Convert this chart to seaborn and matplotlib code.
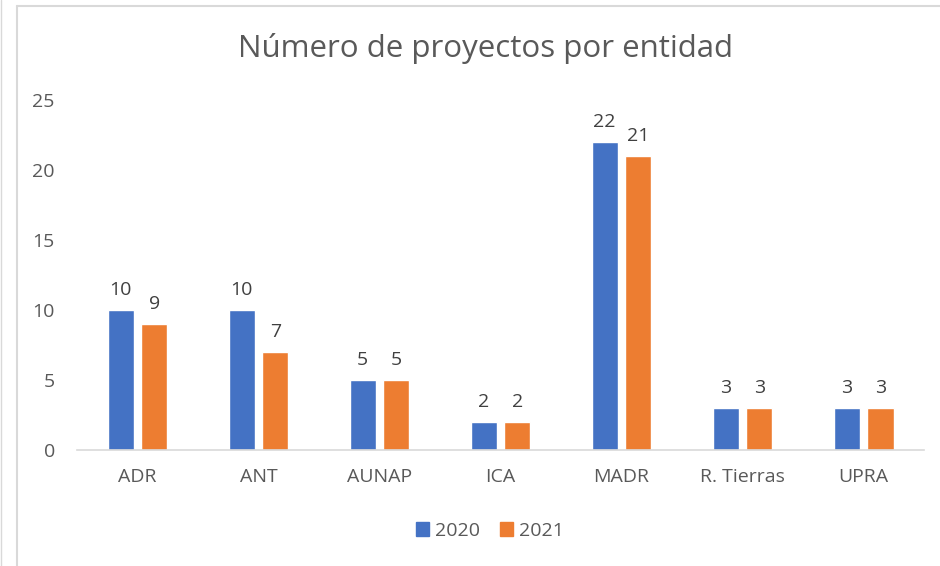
import matplotlib
matplotlib.use("Agg")
import matplotlib.pyplot as plt
import seaborn as sns
import pandas as pd
from matplotlib.patches import Rectangle
from matplotlib.lines import Line2D

# Datos
entidades = ["ADR", "ANT", "AUNAP", "ICA", "MADR", "R. Tierras", "UPRA"]
proyectos_2020 = [10, 10, 5, 2, 22, 3, 3]
proyectos_2021 = [9, 7, 5, 2, 21, 3, 3]
anios = ["2020", "2021"]
colores = ["#4472C4", "#ED7D31"]

df = pd.DataFrame({
    "entidad": entidades * 2,
    "anio": [anios[0]] * len(entidades) + [anios[1]] * len(entidades),
    "valor": proyectos_2020 + proyectos_2021,
})

sns.set_theme(style="white")
plt.rcParams["font.family"] = ["Open Sans", "DejaVu Sans"]
gris = "#595959"

fig = plt.figure(figsize=(9.4, 5.66), dpi=100)
ax = fig.add_axes([0.0819, 0.205, 0.9011, 0.6184])

sns.barplot(data=df, x="entidad", y="valor", hue="anio", palette=colores,
            width=0.56, gap=0.23, saturation=1, ax=ax, legend=False)

for cont in ax.containers:
    ax.bar_label(cont, padding=8, fontsize=14, color="#404040")

ax.set_ylim(0, 25)
ax.set_yticks(range(0, 26, 5))
ax.set_xlim(-0.5, len(entidades) - 0.5)
ax.set_xlabel("")
ax.set_ylabel("")
for s in ["top", "right", "left"]:
    ax.spines[s].set_visible(False)
ax.spines["bottom"].set_color("#D9D9D9")
ax.spines["bottom"].set_linewidth(1.2)
ax.tick_params(axis="both", length=0, labelsize=14, labelcolor=gris)
ax.tick_params(axis="x", pad=13)
ax.tick_params(axis="y", pad=16)

fig.text(0.516, 0.914, "Número de proyectos por entidad", ha="center", va="center",
         fontsize=22.5, color=gris)

# Leyenda
handles = [Rectangle((0, 0), 1, 1, color=c) for c in colores]
fig.legend(handles, anios, loc="center", bbox_to_anchor=(0.521, 0.062), ncol=2,
           frameon=False, fontsize=14, labelcolor=gris, handlelength=0.7,
           handleheight=0.7, handletextpad=0.3, columnspacing=1.0)

# Borde del gráfico
fig.add_artist(Line2D([17 / 940, 17 / 940], [0, 1 - 6 / 566], color="#D9D9D9", lw=1.5,
                      transform=fig.transFigure))
fig.add_artist(Line2D([17 / 940, 1], [1 - 6 / 566, 1 - 6 / 566], color="#D9D9D9", lw=1.5,
                      transform=fig.transFigure))
fig.add_artist(Line2D([1 / 940, 1 / 940], [0, 1], color="#D9D9D9", lw=1.0,
                      transform=fig.transFigure))

fig.savefig("out.png", dpi=100)
